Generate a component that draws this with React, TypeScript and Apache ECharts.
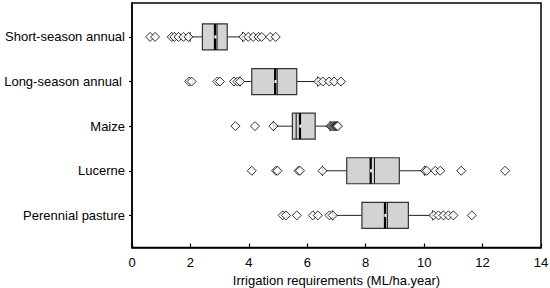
import React, { useEffect, useRef } from "react";
import * as echarts from "echarts";

const categories = ["Short-season annual", "Long-season annual", "Maize", "Lucerne", "Perennial pasture"];
const whiskerLow = [1.99, 3.7, 4.84, 6.52, 6.87];
const q1 = [2.41, 4.1, 5.49, 7.35, 7.87];
const medians = [2.84, 4.9, 5.75, 8.17, 8.66];
const means = [2.91, 4.97, 5.62, 8.3, 8.74];
const q3 = [3.26, 5.64, 6.27, 9.15, 9.46];
const whiskerHigh = [3.79, 6.35, 6.78, 10.01, 10.29];
const outliersShort = [0.62, 0.79, 1.36, 1.45, 1.59, 1.76, 1.93, 3.81, 3.98, 4.15, 4.33, 4.44, 4.73, 4.92];
const outliersLong = [1.96, 2.04, 2.92, 3.01, 3.49, 3.61, 3.7, 6.38, 6.53, 6.75, 6.92, 7.15];
const outliersMaize = [3.54, 4.21, 4.84, 6.8, 6.84, 6.88, 6.92, 6.95, 6.98, 7.0, 7.02, 7.05];
const outliersLucerne = [4.1, 4.93, 4.98, 5.7, 5.75, 6.52, 10.03, 10.09, 10.38, 10.55, 11.27, 12.77];
const outliersPerennial = [5.16, 5.27, 5.64, 6.19, 6.36, 6.76, 6.87, 10.32, 10.49, 10.66, 10.83, 11.0, 11.63];
const xTicks = [0, 2, 4, 6, 8, 10, 12, 14];

export default function App() {
  const ref = useRef<HTMLDivElement>(null);
  useEffect(() => {
    if (!ref.current) return;
    const chart = echarts.init(ref.current, null, { renderer: "svg" });
    const boxData = categories.map((_, i) => [i + 1, whiskerLow[i], q1[i], medians[i], q3[i], whiskerHigh[i], means[i]]);
    const outlierLists = [outliersShort, outliersLong, outliersMaize, outliersLucerne, outliersPerennial];
    const outlierData: number[][] = [];
    outlierLists.forEach((list, i) => list.forEach((v) => outlierData.push([v, i + 1])));
    const font = "'Liberation Sans', Arial, sans-serif";
    chart.setOption({
      animation: false,
      grid: {
        left: 132,
        right: 9,
        top: 3,
        bottom: 40.5,
        show: true,
        borderColor: "#000",
        borderWidth: 1.5,
        backgroundColor: "transparent",
        outerBoundsMode: "none",
      },
      xAxis: {
        type: "value",
        min: 0,
        max: 14,
        interval: 2,
        name: "Irrigation requirements (ML/ha.year)",
        nameLocation: "middle",
        nameGap: 26,
        nameTextStyle: { color: "#000", fontSize: 13, fontFamily: font },
        axisLine: { show: true, lineStyle: { color: "#000", width: 1.5 } },
        axisTick: { show: true, inside: true, length: 4, lineStyle: { color: "#000", width: 1.2 } },
        axisLabel: {
          color: "#000",
          fontSize: 13,
          fontFamily: font,
          margin: 8,
          customValues: xTicks,
        },
        splitLine: { show: false },
      },
      yAxis: {
        type: "value",
        inverse: true,
        min: 0.24,
        max: 5.72,
        axisLine: { show: true, lineStyle: { color: "#000", width: 1.5 } },
        axisTick: { show: true, inside: false, length: 3, customValues: [1, 2, 3, 4, 5], lineStyle: { color: "#000", width: 1.2 } },
        axisLabel: {
          customValues: [1, 2, 3, 4, 5],
          color: "#000",
          fontSize: 13,
          fontFamily: font,
          margin: 7,
          formatter: (v: number) => {
            const idx = Math.round(v) - 1;
            const name = categories[idx] || "";
            return idx === 1 ? "{pad|" + name + "}" : name;
          },
          rich: { pad: { color: "#000", fontSize: 13, fontFamily: font, padding: [0, 3, 0, 0] } },
        },
        splitLine: { show: false },
      },
      series: [
        {
          type: "custom",
          data: boxData,
          encode: { x: [1, 2, 3, 4, 5, 6], y: 0 },
          renderItem: (params: any, api: any) => {
            const y = api.value(0);
            const lo = api.coord([api.value(1), y]);
            const b1 = api.coord([api.value(2), y]);
            const md = api.coord([api.value(3), y]);
            const b3 = api.coord([api.value(4), y]);
            const hi = api.coord([api.value(5), y]);
            const mn = api.coord([api.value(6), y]);
            const cy = lo[1];
            const h = 26;
            const capH = 10;
            const stroke = "#222";
            return {
              type: "group",
              children: [
                { type: "line", shape: { x1: lo[0], y1: cy, x2: b1[0], y2: cy }, style: { stroke, lineWidth: 1 } },
                { type: "line", shape: { x1: b3[0], y1: cy, x2: hi[0], y2: cy }, style: { stroke, lineWidth: 1 } },
                { type: "line", shape: { x1: lo[0], y1: cy - capH / 2, x2: lo[0], y2: cy + capH / 2 }, style: { stroke, lineWidth: 1 } },
                { type: "line", shape: { x1: hi[0], y1: cy - capH / 2, x2: hi[0], y2: cy + capH / 2 }, style: { stroke, lineWidth: 1 } },
                {
                  type: "rect",
                  shape: { x: b1[0], y: cy - h / 2, width: b3[0] - b1[0], height: h },
                  style: { fill: "#d3d3d3", stroke: "#333", lineWidth: 1.2 },
                },
                { type: "line", shape: { x1: mn[0], y1: cy - h / 2, x2: mn[0], y2: cy + h / 2 }, style: { stroke: "#111", lineWidth: 1 } },
                { type: "line", shape: { x1: md[0], y1: cy - h / 2, x2: md[0], y2: cy + h / 2 }, style: { stroke: "#000", lineWidth: 2.2 } },
                { type: "rect", shape: { x: md[0] - 0.6, y: cy - 1.5, width: 2, height: 3 }, style: { fill: "#fff" } },
              ],
            };
          },
          z: 2,
        },
        {
          type: "scatter",
          data: outlierData,
          symbol: "diamond",
          symbolSize: 9,
          itemStyle: { color: "#fff", borderColor: "#000", borderWidth: 1 },
          z: 3,
        },
      ],
    });
    return () => chart.dispose();
  }, []);
  return <div ref={ref} style={{ width: 550, height: 288, position: "absolute", left: 0, top: 0 }} />;
}
